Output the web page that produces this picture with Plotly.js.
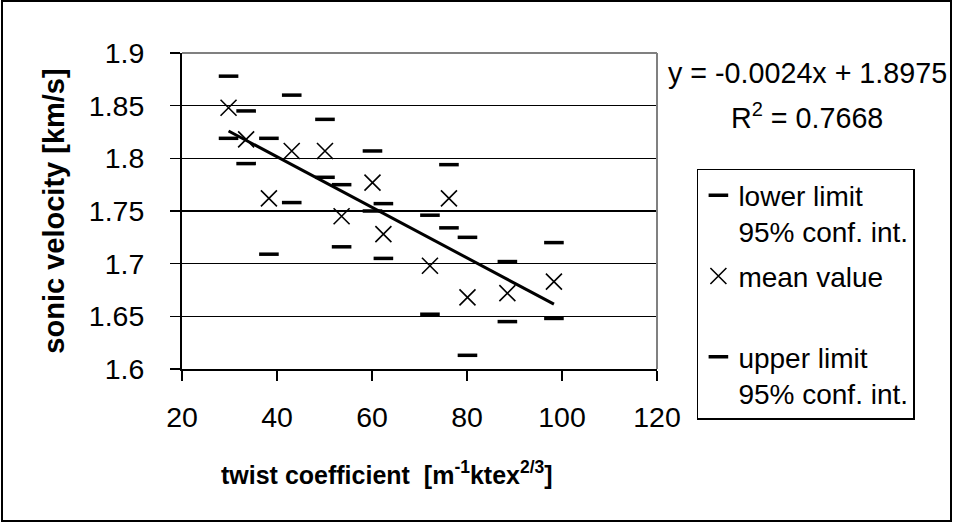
<!DOCTYPE html>
<html>
<head>
<meta charset="utf-8">
<script src="https://cdn.plot.ly/plotly-3.0.1.min.js"></script>
<style>
  html, body { margin: 0; padding: 0; background: #fff; }
  #wrap { position: relative; width: 953px; height: 524px; overflow: hidden; }
  #chart { position: absolute; left: 0; top: 0; width: 953px; height: 524px; }
  #frame { position: absolute; left: 1px; top: 0px; width: 947px; height: 518px; border: 2px solid #000; pointer-events: none; }
</style>
</head>
<body>
<div id="wrap">
  <div id="chart"></div>
  <div id="frame"></div>
</div>
<script>
// twist coefficient [m^-1 ktex^2/3]
const twistCoeff = [29.8, 33.5, 38.3, 43.1, 50.1, 53.6, 60.1, 62.4, 72.2, 76.2, 80.1, 88.5, 98.3];
// sonic velocity [km/s]
const meanValue  = [1.848, 1.818, 1.762, 1.807, 1.807, 1.745, 1.777, 1.728, 1.698, 1.762, 1.668, 1.672, 1.683];
const upperLimit = [1.878, 1.845, 1.819, 1.860, 1.837, 1.775, 1.807, 1.757, 1.746, 1.794, 1.725, 1.702, 1.720];
const lowerLimit = [1.819, 1.795, 1.709, 1.758, 1.782, 1.716, 1.750, 1.705, 1.652, 1.734, 1.613, 1.645, 1.648];

// linear trendline (from chart equation)
const trendSlope = -0.0024;
const trendIntercept = 1.8975;
const trendR2 = 0.7668;

const xTickVals = [20, 40, 60, 80, 100, 120];
const yTickVals = [1.6, 1.65, 1.7, 1.75, 1.8, 1.85, 1.9];
const yTickText = ['1.6', '1.65', '1.7', '1.75', '1.8', '1.85', '1.9'];

const seriesNames = ['lower limit<br>95% conf. int.', 'mean value<br>&nbsp;', 'upper limit<br>95% conf. int.'];

const FONT = 'Liberation Sans, Arial, sans-serif';
const FS = 28;

const xMin = Math.min(...twistCoeff), xMax = Math.max(...twistCoeff);
const trendX = [xMin, xMax];
const trendY = trendX.map(x => trendSlope * x + trendIntercept);

const dashMarker = { symbol: 'line-ew', size: 14, color: '#000', line: { color: '#000', width: 3.5 } };

const traces = [
  { x: twistCoeff, y: lowerLimit, type: 'scatter', mode: 'markers', name: seriesNames[0], legendgroup: 'a', marker: dashMarker, cliponaxis: false },
  { x: twistCoeff, y: meanValue, type: 'scatter', mode: 'markers', name: seriesNames[1], legendgroup: 'b',
    marker: { symbol: 'x-thin', size: 16, color: '#000', line: { color: '#000', width: 1.6 } }, cliponaxis: false },
  { x: twistCoeff, y: upperLimit, type: 'scatter', mode: 'markers', name: seriesNames[2], legendgroup: 'c', marker: dashMarker, cliponaxis: false },
  { x: trendX, y: trendY, type: 'scatter', mode: 'lines', showlegend: false, line: { color: '#000', width: 3 } }
];

const layout = {
  width: 953, height: 524,
  margin: { l: 182, r: 296, t: 53, b: 155, pad: 0 },
  paper_bgcolor: '#fff', plot_bgcolor: '#fff',
  font: { family: FONT, size: FS, color: '#000' },
  showlegend: true,
  legend: {
    x: 1.084, xanchor: 'left', y: 0.633, yanchor: 'top',
    bgcolor: '#fff', bordercolor: '#000', borderwidth: 1.5,
    font: { family: FONT, size: FS, color: '#000' },
    valign: 'top', tracegroupgap: 5, itemwidth: 30
  },
  xaxis: {
    range: [20, 120], tickvals: xTickVals, ticktext: xTickVals.map(String),
    tickfont: { family: FONT, size: 28.5, color: '#000' },
    showgrid: false, zeroline: false,
    showline: true, linecolor: '#000', linewidth: 2,
    ticks: 'outside', ticklen: 10, tickwidth: 1.5, tickcolor: '#000',
    ticklabelstandoff: 12, fixedrange: true
  },
  yaxis: {
    range: [1.6, 1.9], tickvals: yTickVals, ticktext: yTickText,
    tickfont: { family: FONT, size: 28.5, color: '#000' },
    showgrid: true, gridcolor: '#000', gridwidth: 1.3, zeroline: false,
    showline: true, linecolor: '#000', linewidth: 2,
    ticks: 'outside', ticklen: 10, tickwidth: 1.5, tickcolor: '#000',
    ticklabelstandoff: 20,
    title: { text: '<b>sonic velocity [km/s]</b>', font: { family: FONT, size: 29, color: '#000' }, standoff: 16 },
    fixedrange: true
  },
  shapes: [
    { type: 'line', xref: 'paper', yref: 'paper', x0: 0, x1: 1, y0: 1, y1: 1, line: { color: '#808080', width: 2 }, layer: 'above' },
    { type: 'line', xref: 'paper', yref: 'paper', x0: 1, x1: 1, y0: 0, y1: 1, line: { color: '#808080', width: 2 }, layer: 'above' }
  ],
  annotations: [
    { xref: 'paper', yref: 'paper', x: 0.4316, y: -0.33, xanchor: 'center', yanchor: 'middle', showarrow: false,
      text: '<b>twist coefficient &nbsp;[m<sup>-1</sup>ktex<sup>2/3</sup>]</b>', font: { family: FONT, size: 25, color: '#000' } },
    { xref: 'paper', yref: 'paper', x: 1.3168, y: 0.9367, xanchor: 'center', yanchor: 'middle', showarrow: false,
      text: 'y = ' + trendSlope.toFixed(4) + 'x + ' + trendIntercept.toFixed(4), font: { family: FONT, size: 28.7, color: '#000' } },
    { xref: 'paper', yref: 'paper', x: 1.3168, y: 0.80, xanchor: 'center', yanchor: 'middle', showarrow: false,
      text: 'R<sup>2</sup> = ' + trendR2.toFixed(4), font: { family: FONT, size: 28.7, color: '#000' } }
  ]
};

Plotly.newPlot('chart', traces, layout, { displayModeBar: false, staticPlot: true });
</script>
</body>
</html>
